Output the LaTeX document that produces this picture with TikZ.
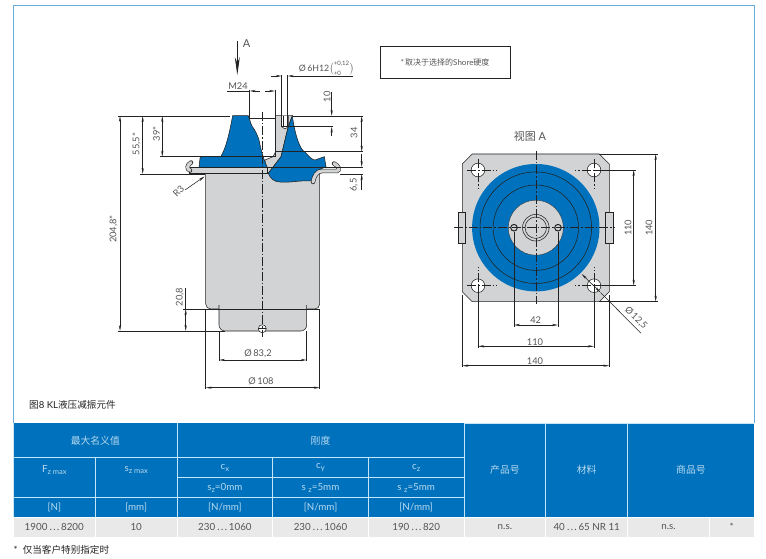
\documentclass[tikz,border=0pt]{standalone}
\usepackage{fontspec}
\setmainfont{Lato}
\newfontfamily\cjk{Noto Sans CJK SC}
\usetikzlibrary{arrows.meta}
\definecolor{mountblue}{HTML}{0071BC}
\definecolor{framecol}{HTML}{6AAEDD}
\definecolor{partgray}{HTML}{D1D3D4}
\definecolor{cellgray}{HTML}{E9E9E9}
\definecolor{gapcol}{HTML}{C5E6F6}
\definecolor{headtxt}{HTML}{B9DAF0}
\definecolor{dimtxt}{HTML}{555555}
\definecolor{inkcol}{HTML}{222222}
\newcommand{\lowsub}[1]{\raisebox{-2pt}{\fontsize{7.5}{9}\selectfont #1}}
\newcommand{\rangedots}{\,{\cjk ⋯}\,}
\tikzset{
  dimline/.style={inkcol, line width=0.55pt},
  dimboth/.style={dimline, {Stealth[length=6pt,width=2.2pt]}-{Stealth[length=6pt,width=2.2pt]}},
  dimend/.style={dimline, -{Stealth[length=6pt,width=2.2pt]}},
  axisline/.style={inkcol, line width=0.55pt, dash pattern=on 9pt off 2pt on 1.5pt off 2pt},
  outlined/.style={draw=inkcol, line width=0.55pt},
  dimtext/.style={dimtxt, font=\fontsize{9.3}{11}\selectfont, inner sep=0pt},
  headcell/.style={fill=mountblue, text=headtxt, inner sep=0pt, font=\fontsize{9.8}{12}\selectfont},
  bodycell/.style={fill=cellgray, text=dimtxt, inner sep=0pt, font=\fontsize{9.8}{11}\selectfont},
  bendouter/.style={inkcol, line width=4.4pt, line cap=round},
  bendinner/.style={partgray, line width=3.2pt, line cap=round},
}
\begin{document}
\begin{tikzpicture}[x=1pt, y=-1pt]
  \useasboundingbox (0,0) rectangle (766,559);
  % Frame
  \draw[framecol, line width=0.9pt] (13.3,423) -- (13.3,5) -- (754,5) -- (754,423);

  % Section: housing
  \draw[outlined, fill=partgray, rounded corners=5pt] (205.7,170) -- (205.7,309) -- (319.7,309) -- (319.7,170);
  \draw[outlined, fill=partgray, rounded corners=6pt] (219,305) -- (219,331) -- (306.7,331) -- (306.7,305);
  \draw[outlined] (219,309) -- (306.7,309);
  % Section: hub
  \draw[outlined, fill=partgray] (275.7,115.7) -- (292.3,115.7) -- (288.3,126.7) .. controls (286,135) and (284,145) .. (281,156.7)
    -- (268.3,173.3) .. controls (266,168) and (265,164) .. (265,160) -- (273,156.7) -- (275.7,151.7) -- cycle;
  \draw[outlined, fill=white] (281.7,115.7) -- (281.7,126.7) -- (285,129) -- (288.3,126.7) -- (288.3,115.7);
  \draw[inkcol, line width=0.4pt] (283,115.7) -- (283,126.7) (287,115.7) -- (287,126.7) (281.7,126.7) -- (288.3,126.7);
  % Section: rubber
  \draw[outlined, fill=mountblue] (232.7,115.7) -- (248.3,115.7) -- (251.7,125.7) .. controls (256,131) and (258,137) .. (259,140)
    .. controls (261,150) and (263,158) .. (267.3,167.3) -- (199,167.3) -- (200,158.3) -- (201.7,156.7) -- (220.7,156.7)
    .. controls (226,148) and (229,135) .. (232.7,115.7) -- cycle;
  \draw[outlined, fill=mountblue] (292.3,115.7) .. controls (295,135) and (300,150) .. (305,152) .. controls (310,158) and (313,160) .. (315,160)
    -- (324.3,156.7) -- (326,166.7) -- (318.3,170) .. controls (315,172) and (313,176) .. (311.7,181)
    .. controls (300,180) and (290,183) .. (280,182) .. controls (274,182) and (270,178) .. (268.3,173.3)
    -- (281,156.7) .. controls (284,145) and (286,135) .. (288.3,126.7) -- cycle;
  % Section: flange plate and hooks
  \draw[outlined, fill=partgray] (189.5,167.3) rectangle (267.3,173.6);
  \draw[bendouter] (190,170.5) .. controls (186.5,169) and (187,165) .. (191,162.5);
  \draw[bendinner] (190,170.5) .. controls (186.5,169) and (187,165) .. (191,162.5);
  \draw[bendouter] (313,182) .. controls (314,176) and (317,171) .. (322,171) -- (337,171) .. controls (340,170) and (339,166) .. (334,163.5);
  \draw[bendinner] (313,182) .. controls (314,176) and (317,171) .. (322,171) -- (337,171) .. controls (340,170) and (339,166) .. (334,163.5);
  % Section: vent hole and axis
  \draw[outlined, fill=white] (262.3,328.7) circle (4);
  \draw[inkcol, line width=0.5pt] (258.3,328.7) -- (266.3,328.7);
  \draw[axisline] (262.3,112) -- (262.3,337);

  % Arrow A
  \draw[inkcol, line width=0.8pt] (237.3,41) -- (237.3,58);
  \draw[inkcol, line width=0.8pt, -{Stealth[length=18pt,width=5pt]}] (237.3,57) -- (237.3,75);
  \node[dimtext, font=\fontsize{11}{13}\selectfont] (viewarrow) at (246.5,44) {A};

  % Section: extension lines
  \draw[dimline] (118,116) -- (230,116) (293,116) -- (363,116);
  \draw[dimline] (160,156.7) -- (275,156.7);
  \draw[dimline] (275,151.7) -- (363,151.7);
  \draw[dimline] (199,167.3) -- (363,167.3);
  \draw[dimline] (140,174) -- (205,174) (340,174) -- (363,174);
  \draw[dimline] (118,331) -- (225,331);
  \draw[dimline] (183,309) -- (320,309);
  \draw[dimline] (249.7,90) -- (249.7,118) -- (275,118);
  \draw[dimline] (275,90) -- (275,156.7);
  \draw[dimline] (281.7,75) -- (281.7,127) (287.7,75) -- (287.7,127);
  \draw[dimline] (288,126.7) -- (333,126.7);
  \draw[dimline] (205.7,309) -- (205.7,389) (319.7,309) -- (319.7,389);
  \draw[dimline] (219,331) -- (219,361) (306.7,331) -- (306.7,361);

  % Section: dimensions
  \draw[dimboth] (120,116) -- (120,331);
  \node[dimtext, rotate=90] (h204) at (113.5,229) {204,8*};
  \draw[dimboth] (142.7,116) -- (142.7,174);
  \node[dimtext, rotate=90] (h555) at (136.5,144) {55,5*};
  \draw[dimboth] (162.3,116) -- (162.3,156.7);
  \node[dimtext, rotate=90] (h39) at (156.5,134) {39*};
  \draw[dimboth] (185.7,309) -- (185.7,331);
  \draw[dimline] (185.7,288) -- (185.7,309);
  \node[dimtext, rotate=90] (h208) at (180,297) {20,8};
  \draw[dimboth] (361.7,116) -- (361.7,151.7);
  \node[dimtext, rotate=90] (h34) at (354,133) {34};
  \draw[dimend] (361.7,154) -- (361.7,167);
  \draw[dimend] (361.7,190) -- (361.7,174);
  \node[dimtext, rotate=90] (h65) at (354,185) {6,5};
  \draw[dimend] (331.7,92) -- (331.7,116);
  \draw[dimend] (331.7,136) -- (331.7,126.7);
  \node[dimtext, rotate=90] (h10) at (327,97) {10};
  % M24
  \draw[dimline] (227,91) -- (249.7,91);
  \draw[dimline, {Stealth[length=6pt,width=2.2pt]}-] (249.7,91) -- (260,91);
  \draw[dimend] (265,91) -- (275,91);
  \node[dimtext] (m24) at (238,86) {M24};
  % hole diameter
  \draw[dimend] (271,76) -- (281.7,76);
  \draw[dimend] (353,76) -- (287.7,76);
  \node[dimtext, font=\fontsize{8.8}{10}\selectfont] (bore) at (326.5,68) {Ø\,6H12$\bigl(^{\mbox{\fontsize{6}{7}\selectfont +0,12}}_{\mbox{\fontsize{6}{7}\selectfont +0}}\bigr)$};
  % R3
  \draw[dimend] (185,190) -- (204.5,176.5);
  \node[dimtext, rotate=45] (r3) at (178.5,191) {R3};
  % diameters
  \draw[dimboth] (219,360) -- (306.7,360);
  \node[dimtext] (d832) at (258,353.3) {Ø\,83,2};
  \draw[dimboth] (205.7,387.7) -- (319.7,387.7);
  \node[dimtext] (d108) at (261,381.7) {Ø\,108};

  % Note
  \node[draw=inkcol, line width=0.7pt, minimum width=130pt, minimum height=31.6pt, inner sep=0pt,
        text=dimtxt, font=\fontsize{8}{10}\selectfont] (note) at (445,62.5) {*\,{\cjk 取决于选择的}Shore{\cjk 硬度}};

  % View A
  \node[dimtxt, font=\fontsize{11}{13}\selectfont, inner sep=0pt] (viewtitle) at (530,136.7) {{\cjk 视图} A};
  \coordinate (viewc) at (535.8,227.7);
  \draw[outlined, fill=partgray] (472.3,154) -- (599.3,154) -- (609.3,164) -- (609.3,291.7) -- (599.3,301.7)
    -- (472.3,301.7) -- (462.3,291.7) -- (462.3,164) -- cycle;
  \draw[outlined, fill=partgray] (458,212) rectangle (465.7,243.7);
  \draw[outlined, fill=partgray] (605.7,212) rectangle (613.3,243.7);
  \fill[mountblue] (viewc) circle (63.7);
  \foreach \r in {55.8,42.7} {
    \draw[outlined] (viewc) circle (\r);
  }
  \draw[outlined, line width=0.3pt, fill=partgray] (viewc) circle (27.5);
  \foreach \r in {13.3,10.7} {
    \draw[outlined] (viewc) circle (\r);
  }
  \foreach \bx in {514,558} {
    \draw[outlined, line width=1pt, fill=partgray] (\bx,227.7) circle (3.3);
  }
  % Corner holes
  \foreach \hx/\hy/\dx/\dy in {478/170/1/1, 594/170/-1/1, 478/285.7/1/-1, 594/285.7/-1/-1} {
    \draw[outlined, fill=white] (\hx,\hy) circle (6.8);
    \draw[axisline] ({\hx-\dx*11},\hy) -- ({\hx+\dx*19},\hy);
    \draw[axisline] (\hx,{\hy-\dy*11}) -- (\hx,{\hy+\dy*19});
  }
  \draw[axisline] (535.8,151) -- (535.8,304);
  \draw[axisline] (454,227.7) -- (615,227.7);
  % View A: extension lines
  \draw[dimline] (599,154) -- (658,154) (599,301.7) -- (658,301.7);
  \draw[dimline] (594,170) -- (635.5,170) (594,285.7) -- (635.5,285.7);
  \draw[dimline] (514,232) -- (514,327) (558,232) -- (558,327);
  \draw[dimline] (478,285.7) -- (478,348) (594,285.7) -- (594,348);
  \draw[dimline] (462.3,295) -- (462.3,367) (609.3,295) -- (609.3,367);
  % View A: dimensions
  \draw[dimboth] (655.7,154) -- (655.7,301.7);
  \node[dimtext, rotate=90] (v140) at (649,227.7) {140};
  \draw[dimboth] (633.7,170) -- (633.7,285.7);
  \node[dimtext, rotate=90] (v110) at (628,227.7) {110};
  \draw[dimboth] (514,325) -- (558,325);
  \node[dimtext] (b42) at (535.7,320) {42};
  \draw[dimboth] (478,346.3) -- (594,346.3);
  \node[dimtext] (b110) at (535,341.7) {110};
  \draw[dimboth] (462.3,365.7) -- (609.3,365.7);
  \node[dimtext] (b140) at (535,360.7) {140};
  \draw[dimboth] (581.7,274) -- (600.5,292.5);
  \draw[dimline] (600.5,292.5) -- (641,333.3);
  \node[dimtext, rotate=-45] (d125) at (636,318) {Ø\,12,5};

  % Caption
  \node[anchor=west, text=inkcol, inner sep=0pt, font=\fontsize{9.6}{11}\selectfont] (caption) at (29,405) {{\cjk 图}8 KL{\cjk 液压减振元件}};

  % Table
  \fill[gapcol] (13.3,423) rectangle (754,517.3);
  \foreach \nm/\cx/\cy/\w/\h/\txt in {
    nominal/95.3/440.3/163.4/34.7/{\cjk 最大名义值},
    stiff/320.5/440.3/287/34.7/{\cjk 刚度},
    fz/54.3/477.7/82/40/{},
    sz/136.2/477.7/81.7/40/{},
    cx/224.9/467.7/95.7/20/{c\lowsub{x}},
    cy/320.5/467.7/95.6/20/{c\lowsub{y}},
    cz/416.2/467.7/95.7/20/{c\lowsub{z}},
    sx/224.9/487.7/95.7/20/{s\lowsub{z}=0mm},
    sy/320.5/487.7/95.6/20/{s\ \lowsub{z}=5mm},
    szz/416.2/487.7/95.7/20/{s\ \lowsub{z}=5mm},
    un/54.3/507.5/82/19.6/{[N]},
    umm/136.2/507.5/81.7/19.6/{[mm]},
    ux/224.9/507.5/95.7/19.6/{[N/mm]},
    uy/320.5/507.5/95.6/19.6/{[N/mm]},
    uz/416.2/507.5/95.7/19.6/{[N/mm]},
    prod/504.9/470.2/81.7/94.3/{\cjk 产品号},
    mat/586.7/470.2/82/94.3/{\cjk 材料},
    trade/690.9/470.2/126.3/94.3/{\cjk 商品号}%
  } {
    \node[headcell, minimum width=\w pt-1pt, minimum height=\h pt-1pt] (\nm) at (\cx,\cy) {\txt};
  }
  \node[headcell, fill=none] (fztxt) at (54.3,470.5) {F\lowsub{z max}};
  \node[headcell, fill=none] (sztxt) at (136.2,470.5) {s\lowsub{z max}};
  \foreach \nm/\cx/\w/\txt in {
    v1/54.3/82/{1900\rangedots 8200},
    v2/136.2/81.7/{10},
    v3/224.9/95.7/{230\rangedots 1060},
    v4/320.5/95.6/{230\rangedots 1060},
    v5/416.2/95.7/{190\rangedots 820},
    v6/504.9/81.7/{n.s.},
    v7/586.7/82/{40\rangedots 65 NR 11},
    v8/668.5/81.6/{n.s.},
    v9/731.7/44.7/{*}%
  } {
    \node[bodycell, minimum width=\w pt-1pt, minimum height=19.5pt] (\nm) at (\cx,527.3) {\txt};
  }
  % Footnote
  \node[anchor=west, text=inkcol, inner sep=0pt, font=\fontsize{9.6}{11}\selectfont] (foot) at (13.5,550) {*\hspace{5pt}{\cjk 仅当客户特别指定时}};
\end{tikzpicture}
\end{document}
